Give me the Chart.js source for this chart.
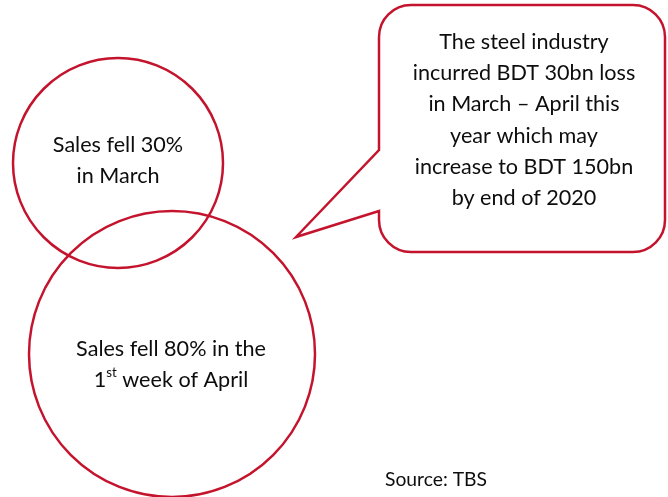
<!DOCTYPE html>
<html lang="en">
<head>
  <meta charset="UTF-8">
  <title>Steel Sales</title>
  <script src="https://cdn.jsdelivr.net/npm/chart.js"></script>
  <style>
    html, body { margin: 0; padding: 0; background: #fff; }
    .chart-container { width: 668px; height: 497px; }
  </style>
</head>
<body>
<div class="chart-container">
  <canvas id="diagram"></canvas>
</div>

<script>
// circles (centre x, centre y, radius) in page units
const circleX = [118, 172];
const circleY = [163, 354];
const circleR = [105, 143];
const circleText = [
  ['Sales fell 30%', 'in March'],
  ['Sales fell 80% in the', '1|st| week of April']
];

// callout box: left, top, right, bottom, tail tip
const calloutBox = [379, 5, 665, 252];
const calloutTail = [150, 211, 296, 237]; // attach y1, attach y2, tip x, tip y
const calloutText = [
  'The steel industry',
  'incurred BDT 30bn loss',
  'in March \u2013 April this',
  'year which may',
  'increase to BDT 150bn',
  'by end of 2020'
];
const sourceText = 'Source: TBS';

const red = '#c4142d';
const ink = '#0d0d0d';
const font = 'Lato, "Open Sans", sans-serif';
const fs = 21.6;

// draw one line, "|" marks the superscript part
function drawLine(ctx, str, cx, cy, size) {
  const parts = str.split('|');
  const widths = parts.map((p, i) => {
    ctx.font = (i === 1 ? size * 0.62 : size) + 'px ' + font;
    return ctx.measureText(p).width;
  });
  let x = cx - widths.reduce((a, b) => a + b, 0) / 2;
  ctx.textAlign = 'left';
  ctx.textBaseline = 'middle';
  parts.forEach((p, i) => {
    ctx.font = (i === 1 ? size * 0.62 : size) + 'px ' + font;
    ctx.fillText(p, x, i === 1 ? cy - size * 0.34 : cy);
    x += widths[i];
  });
}

const calloutPlugin = {
  id: 'callout',
  afterDatasetsDraw(chart) {
    const ctx = chart.ctx;
    const sx = chart.scales.x, sy = chart.scales.y;
    const L = sx.getPixelForValue(calloutBox[0]);
    const T = sy.getPixelForValue(calloutBox[1]);
    const R = sx.getPixelForValue(calloutBox[2]);
    const B = sy.getPixelForValue(calloutBox[3]);
    const a1 = sy.getPixelForValue(calloutTail[0]);
    const a2 = sy.getPixelForValue(calloutTail[1]);
    const tx = sx.getPixelForValue(calloutTail[2]);
    const ty = sy.getPixelForValue(calloutTail[3]);
    const rad = 32;

    ctx.save();
    ctx.beginPath();
    ctx.moveTo(L + rad, T);
    ctx.arcTo(R, T, R, T + rad, rad);
    ctx.arcTo(R, B, R - rad, B, rad);
    ctx.arcTo(L, B, L, B - rad, rad);
    ctx.lineTo(L, a2);
    ctx.lineTo(tx, ty);
    ctx.lineTo(L, a1);
    ctx.arcTo(L, T, L + rad, T, rad);
    ctx.closePath();
    ctx.fillStyle = '#fff';
    ctx.fill();
    ctx.strokeStyle = red;
    ctx.lineWidth = 2.5;
    ctx.lineJoin = 'miter';
    ctx.stroke();

    ctx.fillStyle = ink;
    const cx = (L + R) / 2 + 2;
    calloutText.forEach((t, i) => drawLine(ctx, t, cx, sy.getPixelForValue(42 + i * 31.2), fs));

    // circle captions
    const c1 = sx.getPixelForValue(circleX[0]);
    const c2 = sx.getPixelForValue(circleX[1]) - 1;
    drawLine(ctx, circleText[0][0], c1, sy.getPixelForValue(145), fs);
    drawLine(ctx, circleText[0][1], c1, sy.getPixelForValue(176), fs);
    drawLine(ctx, circleText[1][0], c2, sy.getPixelForValue(349), fs);
    drawLine(ctx, circleText[1][1], c2, sy.getPixelForValue(380), fs);

    ctx.font = '19.3px ' + font;
    ctx.textAlign = 'left';
    ctx.textBaseline = 'middle';
    ctx.fillText(sourceText, sx.getPixelForValue(385), sy.getPixelForValue(480));
    ctx.restore();
  }
};

new Chart(document.getElementById('diagram'), {
  type: 'bubble',
  data: {
    datasets: [{
      data: circleX.map((x, i) => ({ x, y: circleY[i], r: circleR[i] })),
      backgroundColor: 'rgba(0,0,0,0)',
      borderColor: red,
      borderWidth: 2.5,
      hoverRadius: 0,
      clip: false
    }]
  },
  options: {
    responsive: true,
    maintainAspectRatio: false,
    animation: false,
    events: [],
    layout: { padding: 0, autoPadding: false },
    plugins: { legend: { display: false }, tooltip: { enabled: false } },
    scales: {
      x: { type: 'linear', min: 0, max: 668, display: false },
      y: { type: 'linear', min: 0, max: 497, reverse: true, display: false }
    }
  },
  plugins: [calloutPlugin]
});
</script>
</body>
</html>
